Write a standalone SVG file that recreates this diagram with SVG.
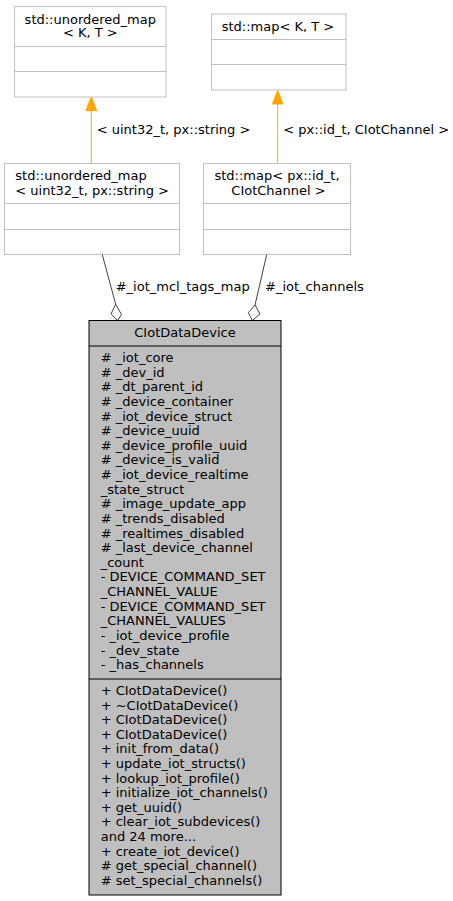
<svg xmlns="http://www.w3.org/2000/svg" width="453" height="901" viewBox="0 0 453 901">
<style>
text{font-family:"DejaVu Sans",sans-serif;font-size:13px;fill:#000}
.c{text-anchor:middle}
.gn{fill:#fff;stroke:#bfbfbf;stroke-width:1}
.gl{stroke:#bfbfbf;stroke-width:1}
.mn{fill:#bfbfbf;stroke:#000;stroke-width:1}
.ml{stroke:#000;stroke-width:1}
.inh{stroke:#ffa500;stroke-width:1;fill:none}
.agg{stroke:#404040;stroke-width:1;fill:none}
</style>
<g id="connectors">
<line class="inh" x1="91.3" y1="163.5" x2="91.3" y2="110"/>
<polygon points="86,110.7 96.7,110.7 91.3,96.5" fill="#ffa500" stroke="#ffa500"/>
<text x="96.7" y="134">&lt; uint32_t, px::string &gt;</text>
<line class="inh" x1="277.7" y1="163.5" x2="277.7" y2="104"/>
<polygon points="272.4,104 283,104 277.7,90.5" fill="#ffa500" stroke="#ffa500"/>
<text x="283.3" y="134">&lt; px::id_t, CIotChannel &gt;</text>
<line class="agg" x1="102.3" y1="254.7" x2="115.7" y2="304.3"/>
<polygon class="agg" points="115.7,304.3 121.5,314.6 117.5,320.5 111,313.8" fill="#fff"/>
<text x="115.7" y="291">#_iot_mcl_tags_map</text>
<line class="agg" x1="266.7" y1="254.7" x2="255" y2="305"/>
<polygon class="agg" points="255,305 260,314 252.3,320.5 248.3,312.7" fill="#fff"/>
<text x="265" y="291">#_iot_channels</text>
</g>
<g id="node_unordered_map_KT">
<rect class="gn" x="14.5" y="6.5" width="151.5" height="90.5"/>
<line class="gl" x1="14.5" y1="46.5" x2="166" y2="46.5"/>
<line class="gl" x1="14.5" y1="71.5" x2="166" y2="71.5"/>
<text class="c" x="90.3" y="23.5">std::unordered_map</text>
<text class="c" x="90.3" y="37">&lt; K, T &gt;</text>
</g>
<g id="node_map_KT">
<rect class="gn" x="211.5" y="14" width="134.5" height="76"/>
<line class="gl" x1="211.5" y1="39.5" x2="346" y2="39.5"/>
<line class="gl" x1="211.5" y1="64.5" x2="346" y2="64.5"/>
<text class="c" x="278" y="30.5">std::map&lt; K, T &gt;</text>
</g>
<g id="node_unordered_map_inst">
<rect class="gn" x="4.5" y="163.5" width="175" height="91"/>
<line class="gl" x1="4.5" y1="203.5" x2="179.5" y2="203.5"/>
<line class="gl" x1="4.5" y1="229.5" x2="179.5" y2="229.5"/>
<text x="15.3" y="180">std::unordered_map</text>
<text x="15.3" y="195">&lt; uint32_t, px::string &gt;</text>
</g>
<g id="node_map_inst">
<rect class="gn" x="203.5" y="163.5" width="147" height="91"/>
<line class="gl" x1="203.5" y1="203.5" x2="350.5" y2="203.5"/>
<line class="gl" x1="203.5" y1="229.5" x2="350.5" y2="229.5"/>
<text class="c" x="277" y="180">std::map&lt; px::id_t,</text>
<text class="c" x="278.5" y="195">CIotChannel &gt;</text>
</g>
<g id="node_CIotDataDevice">
<rect class="mn" x="89" y="320.5" width="192" height="574.5"/>
<line class="ml" x1="89" y1="346" x2="281" y2="346"/>
<line class="ml" x1="89" y1="679" x2="281" y2="679"/>
<text class="c" x="185" y="337">CIotDataDevice</text>
<text x="100.7" y="362">
<tspan x="100.7" dy="0"># _iot_core</tspan>
<tspan x="100.7" dy="14.63"># _dev_id</tspan>
<tspan x="100.7" dy="14.63"># _dt_parent_id</tspan>
<tspan x="100.7" dy="14.63"># _device_container</tspan>
<tspan x="100.7" dy="14.63"># _iot_device_struct</tspan>
<tspan x="100.7" dy="14.63"># _device_uuid</tspan>
<tspan x="100.7" dy="14.63"># _device_profile_uuid</tspan>
<tspan x="100.7" dy="14.63"># _device_is_valid</tspan>
<tspan x="100.7" dy="14.63"># _iot_device_realtime</tspan>
<tspan x="100.7" dy="14.63">_state_struct</tspan>
<tspan x="100.7" dy="14.63"># _image_update_app</tspan>
<tspan x="100.7" dy="14.63"># _trends_disabled</tspan>
<tspan x="100.7" dy="14.63"># _realtimes_disabled</tspan>
<tspan x="100.7" dy="14.63"># _last_device_channel</tspan>
<tspan x="100.7" dy="14.63">_count</tspan>
<tspan x="100.7" dy="14.63">- DEVICE_COMMAND_SET</tspan>
<tspan x="100.7" dy="14.63">_CHANNEL_VALUE</tspan>
<tspan x="100.7" dy="14.63">- DEVICE_COMMAND_SET</tspan>
<tspan x="100.7" dy="14.63">_CHANNEL_VALUES</tspan>
<tspan x="100.7" dy="14.63">- _iot_device_profile</tspan>
<tspan x="100.7" dy="14.63">- _dev_state</tspan>
<tspan x="100.7" dy="14.63">- _has_channels</tspan>
</text>
<text x="100.7" y="695">
<tspan x="100.7" dy="0">+ CIotDataDevice()</tspan>
<tspan x="100.7" dy="14.61">+ ~CIotDataDevice()</tspan>
<tspan x="100.7" dy="14.61">+ CIotDataDevice()</tspan>
<tspan x="100.7" dy="14.61">+ CIotDataDevice()</tspan>
<tspan x="100.7" dy="14.61">+ init_from_data()</tspan>
<tspan x="100.7" dy="14.61">+ update_iot_structs()</tspan>
<tspan x="100.7" dy="14.61">+ lookup_iot_profile()</tspan>
<tspan x="100.7" dy="14.61">+ initialize_iot_channels()</tspan>
<tspan x="100.7" dy="14.61">+ get_uuid()</tspan>
<tspan x="100.7" dy="14.61">+ clear_iot_subdevices()</tspan>
<tspan x="100.7" dy="14.61">and 24 more...</tspan>
<tspan x="100.7" dy="14.61">+ create_iot_device()</tspan>
<tspan x="100.7" dy="14.61"># get_special_channel()</tspan>
<tspan x="100.7" dy="14.61"># set_special_channels()</tspan>
</text>
</g>
</svg>
